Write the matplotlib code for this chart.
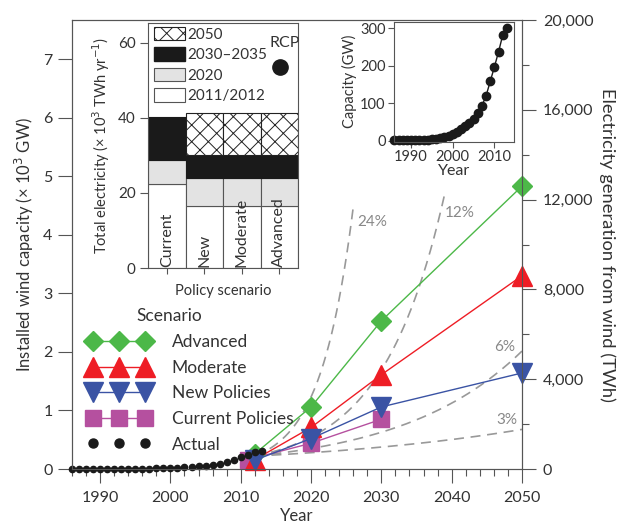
import numpy as np
import matplotlib.pyplot as plt
from matplotlib.lines import Line2D
from matplotlib.patches import Patch
from matplotlib.ticker import MultipleLocator

plt.rcParams['font.family'] = ['Lato', 'DejaVu Sans']
plt.rcParams['text.color'] = '#333333'
plt.rcParams['axes.labelcolor'] = '#333333'
plt.rcParams['xtick.color'] = '#555555'
plt.rcParams['ytick.color'] = '#555555'
plt.rcParams['xtick.labelcolor'] = '#333333'
plt.rcParams['ytick.labelcolor'] = '#333333'
plt.rcParams['axes.edgecolor'] = '#555555'
plt.rcParams['hatch.linewidth'] = 0.7

# actual installed capacity, GW
actual_years = np.arange(1986, 2014)
actual_gw = [1.3, 1.5, 1.6, 1.7, 1.9, 2.2, 2.5, 3.0, 3.5, 4.8, 6.1, 7.6, 10.2, 13.6,
             17.4, 23.9, 31.1, 39.4, 47.6, 59.1, 74.1, 93.9, 120.7, 159.0, 197.9,
             238.1, 282.8, 300.0]

# scenarios, 10^3 GW
adv_years = [2012, 2020, 2030, 2050]
adv = [0.26, 1.06, 2.53, 4.83]
mod_years = [2012, 2020, 2030, 2050]
mod = [0.16, 0.71, 1.61, 3.30]
new_years = [2012, 2020, 2030, 2050]
new = [0.15, 0.52, 1.06, 1.64]
cur_years = [2011, 2020, 2030]
cur = [0.16, 0.44, 0.85]

# constant growth rate reference curves from 2012
growth_rates = [0.03, 0.06, 0.12, 0.24]
growth_labels = ['3%', '6%', '12%', '24%']
growth_end = [2050, 2050, 2039, 2026]
growth_base = 0.22
growth_start = 2012

# total electricity by policy scenario, 10^3 TWh/yr (cumulative levels)
policies = ['Current', 'New', 'Moderate', 'Advanced']
elec_2011 = [22.3, 16.6, 16.6, 16.6]
elec_2020 = [28.9, 23.9, 23.9, 23.9]
elec_2030 = [40.2, 30.1, 30.1, 30.1]
elec_2050 = [np.nan, 41.3, 41.3, 41.3]

green = '#4cb848'
red = '#ee1d25'
blue = '#3a53a4'
purple = '#b5509f'

fig = plt.figure(figsize=(6.27, 5.28), dpi=100)
ax = fig.add_axes([0.1148, 0.1117, 0.7177, 0.8503])
ax.set_xlim(1986, 2050)
ax.set_ylim(0, 7.666)

for r, lab, end in zip(growth_rates, growth_labels, growth_end):
    t = np.linspace(growth_start, end, 200)
    ax.plot(t, growth_base * (1 + r) ** (t - growth_start), color='#999999',
            lw=1.2, dashes=(6, 4), zorder=2)
ax.text(2028.7, 4.22, '24%', color='#888888', fontsize=11, ha='center', va='center')
ax.text(2041.2, 4.37, '12%', color='#888888', fontsize=11, ha='center', va='center')
ax.text(2047.6, 2.08, '6%', color='#888888', fontsize=11, ha='center', va='center')
ax.text(2047.9, 0.83, '3%', color='#888888', fontsize=11, ha='center', va='center')

l_cur, = ax.plot(cur_years, cur, color=purple, lw=1, marker='s', ms=12, mec=purple,
                 zorder=3, clip_on=False)
l_new, = ax.plot(new_years, new, color=blue, lw=1, marker='v', ms=14, mec=blue,
                 zorder=4, clip_on=False)
l_mod, = ax.plot(mod_years, mod, color=red, lw=1, marker='^', ms=14, mec=red,
                 zorder=3.5, clip_on=False)
l_adv, = ax.plot(adv_years, adv, color=green, lw=1, marker='D', ms=10, mec=green,
                 zorder=3.2, clip_on=False)
ax.plot(actual_years, np.array(actual_gw) / 1000, 'o', color='#1a1a1a', ms=4.5,
        zorder=5, clip_on=False)

ax.set_yticks(range(8))
ax.xaxis.set_minor_locator(MultipleLocator(2))
ax.set_xticks(range(1990, 2051, 10))
ax.tick_params(which='major', direction='out', length=10, width=0.8, labelsize=11.5, pad=4)
ax.tick_params(which='minor', direction='out', length=5, width=0.8)
ax.tick_params(axis='x', pad=6)
ax.set_xlabel('Year', fontsize=12, labelpad=2)
ax.set_ylabel('Installed wind capacity (× 10$^3$ GW)', fontsize=12, labelpad=5)

ax2 = ax.twinx()
ax2.set_ylim(0, 20000)
ax2.set_yticks(range(0, 20001, 4000))
ax2.set_yticklabels(['0', '4,000', '8,000', '12,000', '16,000', '20,000'])
ax2.yaxis.set_minor_locator(MultipleLocator(2000))
ax2.tick_params(which='major', direction='out', length=10, width=0.8, labelsize=11.5, pad=5)
ax2.tick_params(which='minor', direction='out', length=5, width=0.8)
ax2.set_ylabel('Electricity generation from wind (TWh)', fontsize=13.2, rotation=270,
               labelpad=16)

act_handle = Line2D([], [], ls='none', marker='o', ms=6.5, color='#1a1a1a')
ax.legend([l_adv, l_mod, l_new, l_cur, act_handle],
          ['Advanced', 'Moderate', 'New Policies', 'Current Policies', 'Actual'],
          loc='upper left', bbox_to_anchor=(0.036, 0.30), frameon=False, numpoints=3,
          handlelength=3.6, labelspacing=0.55, borderpad=0, borderaxespad=0,
          handletextpad=1.2, fontsize=12.5)
ax.text(0.144, 0.341, 'Scenario', transform=ax.transAxes, fontsize=12.5,
        ha='left', va='center')

# inset: total electricity by policy scenario
axb = fig.add_axes([0.2365, 0.4924, 0.2388, 0.464])
xb = np.arange(len(policies))
ec = '#555555'
axb.bar(xb, elec_2011, width=1, color='white', edgecolor=ec, lw=0.8)
axb.bar(xb, np.array(elec_2020) - np.array(elec_2011), bottom=elec_2011, width=1,
        color='#e3e3e3', edgecolor=ec, lw=0.8)
axb.bar(xb, np.array(elec_2030) - np.array(elec_2020), bottom=elec_2020, width=1,
        color='#1a1a1a', edgecolor='#1a1a1a', lw=0.8)
axb.bar(xb, np.array(elec_2050) - np.array(elec_2030), bottom=elec_2030, width=1,
        color='white', edgecolor='#222222', hatch='xx', lw=0.8)
for i, p in enumerate(policies):
    axb.text(i, 0.4, p, rotation=90, ha='center', va='bottom', fontsize=11.5)
axb.set_xlim(-0.5, 3.5)
axb.set_ylim(0, 65.3)
axb.set_xticks(xb)
axb.set_xticklabels([])
axb.set_yticks([0, 20, 40, 60])
axb.tick_params(axis='y', direction='out', length=6, width=0.8, labelsize=11, pad=3)
axb.tick_params(axis='x', direction='out', length=4, width=0.8)
axb.set_xlabel('Policy scenario', fontsize=10.5, labelpad=4)
axb.set_ylabel('Total electricity (× 10$^3$ TWh yr$^{-1}$)', fontsize=10.5, labelpad=4)
leg_patches = [Patch(facecolor='white', edgecolor='#222222', hatch='xx', lw=0.8),
               Patch(facecolor='#1a1a1a', edgecolor='#1a1a1a'),
               Patch(facecolor='#e3e3e3', edgecolor=ec, lw=0.8),
               Patch(facecolor='white', edgecolor=ec, lw=0.8)]
axb.legend(leg_patches, ['2050', '2030–2035', '2020', '2011/2012'], loc='upper left',
           bbox_to_anchor=(0.038, 0.985), frameon=False, handlelength=2.0,
           handleheight=1.0, labelspacing=0.35, handletextpad=0.2, borderpad=0,
           borderaxespad=0, fontsize=11)
axb.text(0.913, 0.92, 'RCP', transform=axb.transAxes, ha='center', va='center',
         fontsize=11.5)
axb.plot([0.88], [0.82], 'o', color='#1a1a1a', ms=11, transform=axb.transAxes,
         clip_on=False)

# inset: historical capacity
axc = fig.add_axes([0.6284, 0.7316, 0.1914, 0.2273])
axc.plot(actual_years, actual_gw, '-o', color='#1a1a1a', ms=6, lw=1, clip_on=False)
axc.set_xlim(1985.9, 2014.7)
axc.set_ylim(-2, 318)
axc.set_xticks([1990, 2000, 2010])
axc.set_yticks([0, 100, 200, 300])
axc.tick_params(direction='out', length=4, width=0.8, labelsize=10.5, pad=2)
axc.set_xlabel('Year', fontsize=11.5, labelpad=0)
axc.set_ylabel('Capacity (GW)', fontsize=10.5, labelpad=2)

fig.savefig('out.png', dpi=100)
